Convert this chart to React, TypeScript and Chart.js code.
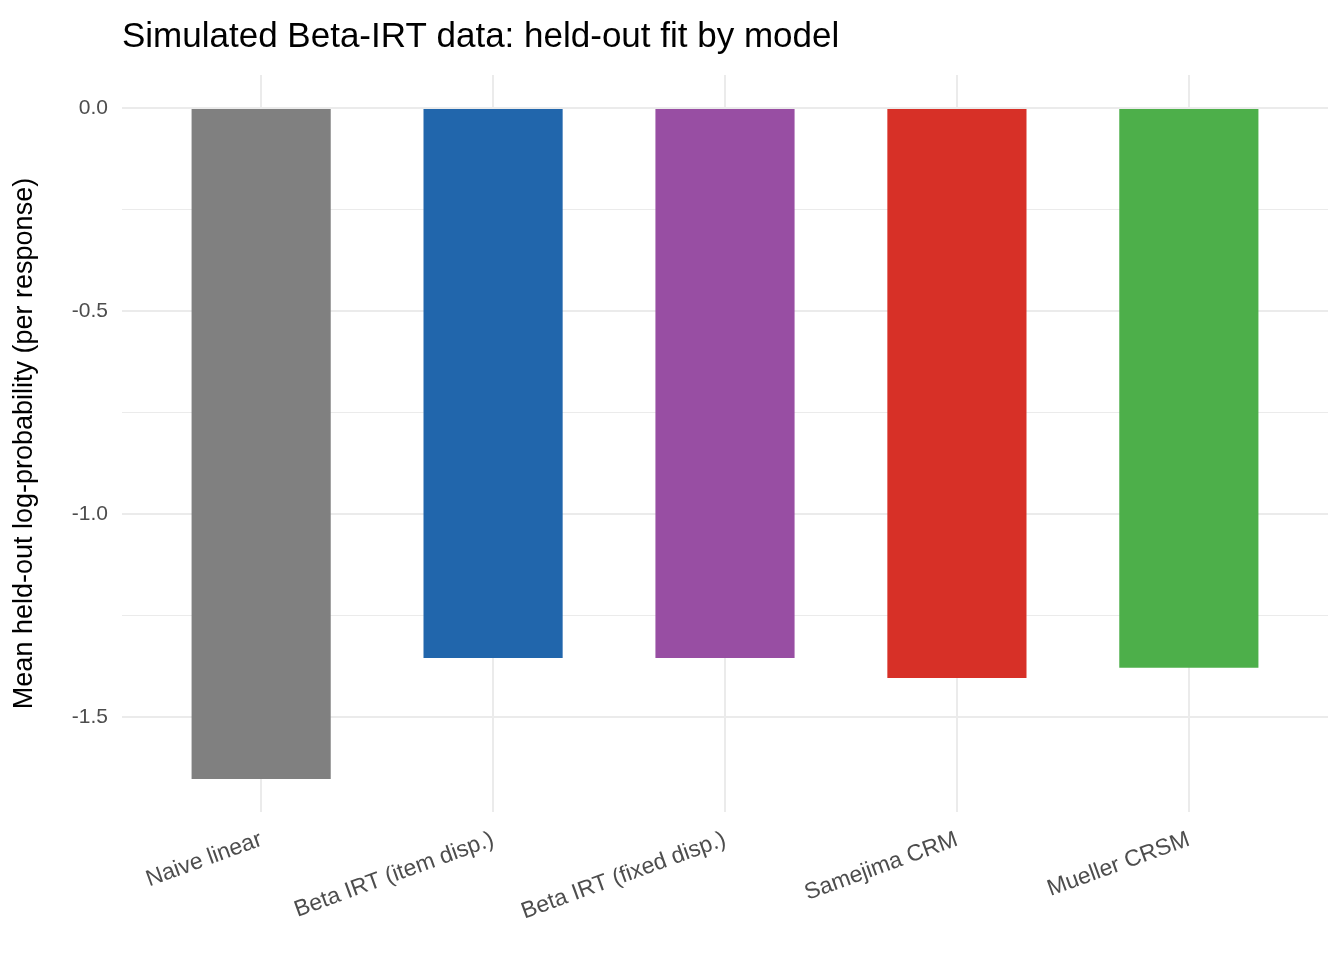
import React, { useEffect, useRef } from "react";
import { Chart, registerables } from "chart.js";
Chart.register(...registerables);

const categories = ["Naive linear", "Beta IRT (item disp.)", "Beta IRT (fixed disp.)", "Samejima CRM", "Mueller CRSM"];
const values = [-1.653, -1.355, -1.355, -1.404, -1.379];
const colors = ["#808080", "#2166AC", "#984EA3", "#D73027", "#4DAF4A"];
const yTicks = [-1.5, -1.25, -1.0, -0.75, -0.5, -0.25, 0];

export default function App() {
  const ref = useRef<HTMLCanvasElement>(null);
  useEffect(() => {
    document.body.style.margin = "0";
    const font = "'Liberation Sans', Arial, sans-serif";
    const titlePlugin = {
      id: "ttl",
      afterDraw(c: any) {
        const ctx = c.ctx;
        ctx.save();
        ctx.font = `35px ${font}`;
        ctx.fillStyle = "#000";
        ctx.textBaseline = "alphabetic";
        ctx.fillText("Simulated Beta-IRT data: held-out fit by model", c.chartArea.left, 47);
        ctx.restore();
      },
    };
    const chart = new Chart(ref.current!, {
      type: "bar",
      data: {
        datasets: [{
          data: values.map((v, i) => ({ x: i + 1, y: v })),
          backgroundColor: colors,
          barPercentage: 0.6,
          categoryPercentage: 1,
        }],
      },
      options: {
        animation: false,
        responsive: false,
        layout: { padding: { top: 75, right: 16, left: 4, bottom: 0 } },
        plugins: { legend: { display: false }, tooltip: { enabled: false } },
        scales: {
          x: {
            type: "linear",
            offset: false,
            min: 0.4,
            max: 5.6,
            afterBuildTicks: (s: any) => { s.ticks = [1, 2, 3, 4, 5].map((v) => ({ value: v })); },
            afterFit: (s: any) => { s.height = 148; },
            ticks: {
              callback: (v: any) => categories[Number(v) - 1] ?? "",
              minRotation: 20,
              maxRotation: 20,
              color: "#4D4D4D",
              font: { family: font, size: 23 },
              padding: 14,
            },
            grid: { color: "#EBEBEB", lineWidth: 2, drawTicks: false, offset: false },
            border: { display: false },
          },
          y: {
            min: -1.734,
            max: 0.081,
            afterBuildTicks: (s: any) => { s.ticks = yTicks.map((v) => ({ value: v })); },
            afterFit: (s: any) => { s.width = 118; },
            ticks: {
              callback: (v: any) => (Math.abs((Number(v) * 2) % 1) < 1e-9 ? Number(v).toFixed(1) : ""),
              color: "#4D4D4D",
              font: { family: font, size: 21 },
              padding: 14,
            },
            grid: {
              color: "#EBEBEB",
              lineWidth: (ctx: any) => (Math.abs((ctx.tick?.value * 2) % 1) < 1e-9 ? 2 : 1),
              drawTicks: false,
            },
            border: { display: false },
            title: {
              display: true,
              text: "Mean held-out log-probability (per response)",
              color: "#000",
              font: { family: font, size: 27 },
              padding: 4,
            },
          },
        },
      },
      plugins: [titlePlugin],
    } as any);
    return () => chart.destroy();
  }, []);
  return <canvas ref={ref} width={1344} height={960} style={{ display: "block" }} />;
}
